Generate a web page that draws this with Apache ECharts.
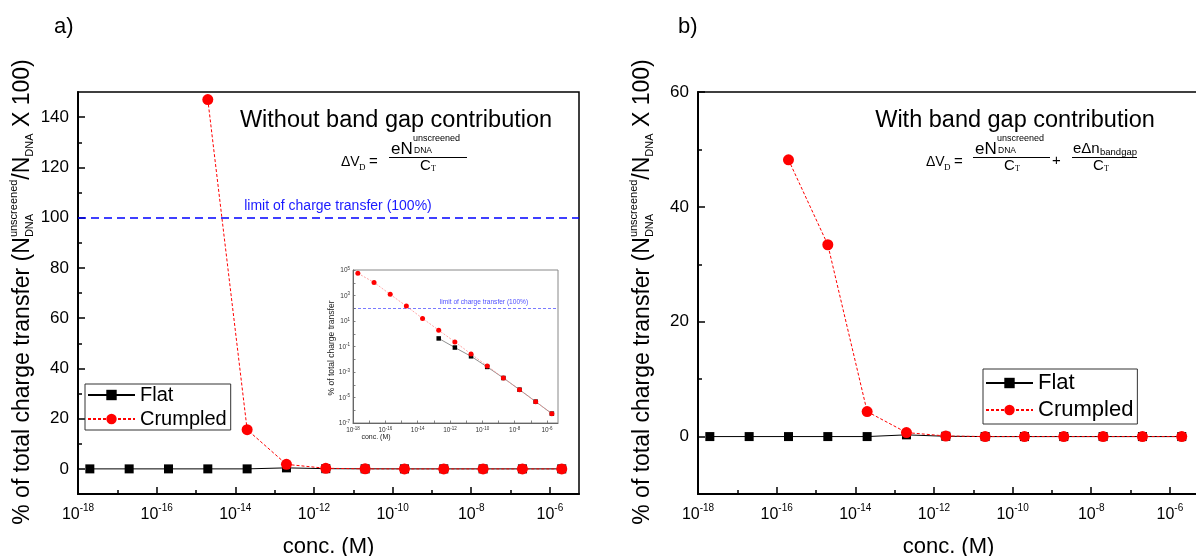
<!DOCTYPE html>
<html><head><meta charset="utf-8">
<script src="https://cdn.jsdelivr.net/npm/echarts@6/dist/echarts.min.js"></script>
<style>html,body{margin:0;padding:0;background:#fff}#c{width:1196px;height:556px}</style>
</head><body><div id="c"></div>
<script>
// ---------------- data ----------------
const conc = [2e-18,2e-17,2e-16,2e-15,2e-14,2e-13,2e-12,2e-11,2e-10,2e-9,2e-8,2e-7,2e-6];
const flatA = [0,0,0,0,0,0.4,0.08,0.02,0,0,0,0,0];
const crumpledA = [null,null,null,147,15.6,1.8,0.23,0.03,0,0,0,0,0];
const flatB = [0,0,0,0,0,0.3,0.05,0,0,0,0,0,0];
const crumpledB = [null,null,48.2,33.4,4.35,0.7,0.1,0,0,0,0,0,0];
const insetFlat = [null,null,null,null,null,0.43,0.083,0.017,0.0025,3.4e-4,4.1e-5,4.7e-6,5.4e-7];
const insetCrumpled = [5.5e4,1.07e4,1230,147,16,1.9,0.23,0.026,0.003,3.4e-4,4.1e-5,4.7e-6,5.4e-7];
const xLabelExp = [-18,-16,-14,-12,-10,-8,-6];
const xMinorExp = [-17,-15,-13,-11,-9,-7];
const yTicksA = [0,20,40,60,80,100,120,140];
const yMinorA = [10,30,50,70,90,110,130];
const yTicksB = [0,20,40,60];
const yMinorB = [10,30,50];
const insetXTickExp = [-18,-17,-16,-15,-14,-13,-12,-11,-10,-9,-8,-7,-6];
const insetYTickExp = [-7,-6,-5,-4,-3,-2,-1,0,1,2,3,4,5];
const insetYLabelExp = [-7,-5,-3,-1,1,3,5];
const limitValue = 100;
const seriesNames = ['Flat','Crumpled'];

// ---------------- helpers ----------------
const FONT = 'Liberation Sans';
const SERIF = 'Liberation Serif';
const cvs = document.createElement('canvas').getContext('2d');
function measure(t, font){ cvs.font = font; return cvs.measureText(t).width; }
function pts(xs, ys, logY){
  const out = [];
  xs.forEach((x,i)=>{ if (ys[i] !== null) out.push([Math.log10(x), logY ? Math.log10(ys[i]) : ys[i]]); });
  return out;
}
function txt(t, x, y, size, opts){
  opts = opts || {};
  const fam = opts.family || FONT;
  return {type:'text', x:x, y:y, silent:true, z:100, style:{text:t, font:size+'px "'+fam+'"', fill:opts.color||'#000',
    textAlign:opts.align||'left', align:opts.align||'left', textVerticalAlign:'middle', verticalAlign:'middle'}};
}
function line(x1,y1,x2,y2){
  return {type:'line', silent:true, z:100, shape:{x1:x1,y1:y1,x2:x2,y2:y2}, style:{stroke:'#000', lineWidth:1}};
}
function run(pieces){
  let x = 0; const els = [];
  pieces.forEach(p=>{
    const items = p.stack || [p];
    let w = 0;
    items.forEach(it=>{
      const font = it.size+'px "'+FONT+'"';
      els.push(txt(it.t, x, it.dy||0, it.size));
      w = Math.max(w, measure(it.t, font));
    });
    x += w;
  });
  els.forEach(e=>{ e.x -= x/2; });
  return els;
}
const yTitlePieces = [
  {t:'% of total charge transfer (N', size:23},
  {stack:[{t:'unscreened', size:11, dy:-9},{t:'DNA', size:11, dy:7}]},
  {t:'/N', size:23},
  {t:'DNA', size:11, dy:7},
  {t:' X 100)', size:23}
];
function yTitle(cx, cy){
  return {type:'group', x:cx, y:cy, rotation:Math.PI/2, children: run(yTitlePieces)};
}
const xRich = {
  b:{fontSize:16, fontFamily:FONT, color:'#000', lineHeight:20, verticalAlign:'bottom'},
  s:{fontSize:10, fontFamily:FONT, color:'#000', lineHeight:10, verticalAlign:'top'}
};
const inRich = {
  b:{fontSize:6.5, fontFamily:FONT, color:'#333', lineHeight:8, verticalAlign:'bottom'},
  s:{fontSize:4.5, fontFamily:FONT, color:'#333', lineHeight:5, verticalAlign:'top'}
};
const powFmt = v => '{b|10}{s|' + Math.round(v) + '}';

function mainX(grid, max){
  return [
    {type:'value', gridIndex:grid, min:-18, max:max, position:'bottom',
     axisLine:{show:true, onZero:false, lineStyle:{color:'#000', width:2}},
     axisTick:{show:true, inside:true, length:7, customValues:xLabelExp, lineStyle:{color:'#000', width:1.5}},
     axisLabel:{customValues:xLabelExp, formatter:powFmt, rich:xRich, margin:9},
     splitLine:{show:false},
     name:'conc. (M)', nameLocation:'middle', nameGap:42,
     nameTextStyle:{fontSize:22, fontFamily:FONT, color:'#000'}},
    {type:'value', gridIndex:grid, min:-18, max:max, position:'bottom',
     axisLine:{show:false, onZero:false},
     axisTick:{show:true, inside:true, length:4, customValues:xMinorExp, lineStyle:{color:'#000', width:1.5}},
     axisLabel:{show:false}, splitLine:{show:false}}
  ];
}
function mainY(grid, min, max, major, minor){
  return [
    {type:'value', gridIndex:grid, min:min, max:max, position:'left',
     axisLine:{show:true, onZero:false, lineStyle:{color:'#000', width:2}},
     axisTick:{show:true, inside:true, length:7, customValues:major, lineStyle:{color:'#000', width:1.5}},
     axisLabel:{customValues:major, fontSize:17, fontFamily:FONT, color:'#000', margin:9},
     splitLine:{show:false}},
    {type:'value', gridIndex:grid, min:min, max:max, position:'left',
     axisLine:{show:false, onZero:false},
     axisTick:{show:true, inside:true, length:4, customValues:minor, lineStyle:{color:'#000', width:1.5}},
     axisLabel:{show:false}, splitLine:{show:false}}
  ];
}

const flatStyle = {type:'line', name:'Flat', symbol:'rect', symbolSize:9,
  itemStyle:{color:'#000'}, lineStyle:{color:'#000', width:1}, z:3};
const crumStyle = {type:'line', name:'Crumpled', symbol:'circle', symbolSize:11,
  itemStyle:{color:'#ff0000'}, lineStyle:{color:'#ff0000', width:1, type:[3,2]}, z:4};

const option = {
  animation:false,
  backgroundColor:'#fff',
  grid:[
    {left:78, top:92, width:501, height:402, show:true, borderColor:'#000', borderWidth:1.5, containLabel:false, outerBoundsMode:'none'},
    {left:698, top:92, width:501, height:402, show:true, borderColor:'#000', borderWidth:1.5, containLabel:false, outerBoundsMode:'none'},
    {left:353, top:270, width:205, height:153, show:true, borderColor:'#888', borderWidth:1, backgroundColor:'#fff', z:5, containLabel:false, outerBoundsMode:'none'}
  ],
  xAxis:[].concat(mainX(0,-5.26), mainX(1,-5.26), [
    {type:'value', gridIndex:2, min:-18, max:-5.32, position:'bottom', z:6,
     axisLine:{show:true, onZero:false, lineStyle:{color:'#666', width:1}},
     axisTick:{show:true, inside:true, length:2.5, customValues:insetXTickExp, lineStyle:{color:'#666', width:0.8}},
     axisLabel:{customValues:xLabelExp, formatter:powFmt, rich:inRich, margin:3},
     splitLine:{show:false}}
  ]),
  yAxis:[].concat(mainY(0,-10,150,yTicksA,yMinorA), mainY(1,-10,60,yTicksB,yMinorB), [
    {type:'value', gridIndex:2, min:-7, max:5, position:'left', z:6,
     axisLine:{show:true, onZero:false, lineStyle:{color:'#666', width:1}},
     axisTick:{show:true, inside:true, length:2.5, customValues:insetYTickExp, lineStyle:{color:'#666', width:0.8}},
     axisLabel:{customValues:insetYLabelExp, formatter:powFmt, rich:inRich, margin:3},
     splitLine:{show:false}}
  ]),
  legend:[
    {data:seriesNames, orient:'vertical', left:85, top:384, itemWidth:47, itemHeight:13, itemGap:2,
     padding:[0,4,0,2], borderColor:'#333', borderWidth:1, selectedMode:false,
     textStyle:{fontSize:20, fontFamily:FONT, color:'#000', lineHeight:22}},
    {data:seriesNames, orient:'vertical', left:983, top:369, itemWidth:47, itemHeight:13, itemGap:2,
     padding:[1.5,4,1.5,2], borderColor:'#333', borderWidth:1, selectedMode:false,
     textStyle:{fontSize:22, fontFamily:FONT, color:'#000', lineHeight:25}}
  ],
  series:[
    Object.assign({}, flatStyle, {xAxisIndex:0, yAxisIndex:0, data:pts(conc, flatA)}),
    Object.assign({}, crumStyle, {xAxisIndex:0, yAxisIndex:0, data:pts(conc, crumpledA),
      markLine:{silent:true, symbol:'none', label:{show:false}, animation:false,
        lineStyle:{color:'#0000ff', width:1.5, type:[8,5]}, data:[{yAxis:limitValue}]}}),
    Object.assign({}, flatStyle, {xAxisIndex:2, yAxisIndex:2, data:pts(conc, flatB)}),
    Object.assign({}, crumStyle, {xAxisIndex:2, yAxisIndex:2, data:pts(conc, crumpledB)}),
    {type:'line', name:'FlatInset', xAxisIndex:4, yAxisIndex:4, z:7, symbol:'rect', symbolSize:4.5,
     itemStyle:{color:'#000'}, lineStyle:{color:'#444', width:0.6}, data:pts(conc, insetFlat, true)},
    {type:'line', name:'CrumpledInset', xAxisIndex:4, yAxisIndex:4, z:8, symbol:'circle', symbolSize:5,
     itemStyle:{color:'#ff0000'}, lineStyle:{color:'#ff9090', width:0.8, type:[2,1.5]}, data:pts(conc, insetCrumpled, true),
     markLine:{silent:true, symbol:'none', label:{show:false}, animation:false,
       lineStyle:{color:'#7b7bff', width:1, type:[3,2]}, data:[{yAxis:Math.log10(limitValue)}]}}
  ],
  graphic:[
    txt('a)', 54, 27, 22),
    txt('b)', 678, 27, 22),
    yTitle(23, 292),
    yTitle(643, 292),
    txt('Without band gap contribution', 396, 121, 23.5, {align:'center'}),
    txt('With band gap contribution', 1015, 121, 23.5, {align:'center'}),
    // formula a
    txt('\u0394V', 341, 162, 14), txt('D', 359, 168, 9, {family:SERIF}), txt('=', 369, 162, 15),
    txt('eN', 391, 149, 17), txt('unscreened', 413, 139, 9), txt('DNA', 414, 151, 8.5),
    line(389, 157.5, 467, 157.5),
    txt('C', 420, 166, 15), txt('T', 431, 169, 8, {family:SERIF}),
    // formula b
    txt('\u0394V', 926, 162, 14), txt('D', 944, 168, 9, {family:SERIF}), txt('=', 954, 162, 15),
    txt('eN', 975, 149, 17), txt('unscreened', 997, 139, 9), txt('DNA', 998, 151, 8.5),
    line(973, 157.5, 1050, 157.5),
    txt('C', 1004, 166, 15), txt('T', 1015, 169, 8, {family:SERIF}),
    txt('+', 1052, 161, 15),
    txt('e\u0394n', 1073, 149, 15), txt('bandgap', 1100, 152, 9.5),
    line(1072, 157.5, 1137, 157.5),
    txt('C', 1093, 166, 15), txt('T', 1104, 169, 8, {family:SERIF}),
    // limit labels
    txt('limit of charge transfer (100%)', 338, 206, 14, {align:'center', color:'#1a1aff'}),
    txt('limit of charge transfer (100%)', 484, 302, 6.6, {align:'center', color:'#5050ff'}),
    // inset axis titles
    {type:'text', x:332, y:348, rotation:Math.PI/2, silent:true, z:100,
     style:{text:'% of total charge transfer', font:'8.5px "'+FONT+'"', fill:'#222', textAlign:'center', align:'center', textVerticalAlign:'middle', verticalAlign:'middle'}},
    txt('conc. (M)', 376, 437, 7, {align:'center', color:'#222'})
  ]
};
echarts.init(document.getElementById('c')).setOption(option);
</script></body></html>
